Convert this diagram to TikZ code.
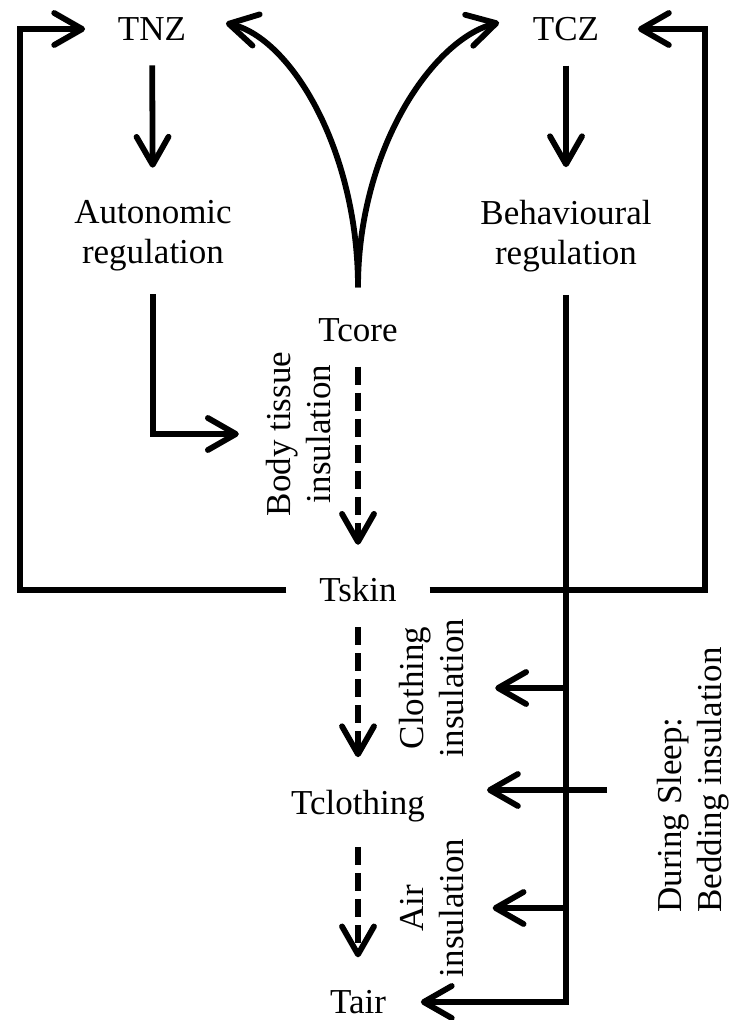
\documentclass[tikz,border=0pt]{standalone}
\usepackage{fontspec}
\setmainfont{Liberation Serif}
\usetikzlibrary{arrows.meta}
\begin{document}
\begin{tikzpicture}[x=0.5pt,y=-0.5pt,line width=2.9pt,line join=miter,line cap=butt,
	>={Straight Barb[length=14pt,width=16pt,round]},
	font=\fontsize{17.5pt}{20pt}\selectfont,inner sep=0pt,
	flow/.style={->,shorten <=11pt,shorten >=15pt},
	dflow/.style={flow,dash pattern=on 9pt off 4pt},
	side/.style={rotate=90,align=center}]
	\useasboundingbox (0,0) rectangle (728,1020);
	%Zones and regulation
	\node (tnz) at (152,29) {TNZ};
	\node (tcz) at (566,29) {TCZ};
	\node[align=center] (aut) at (153,236) {Autonomic\\regulation};
	\node[align=center] (beh) at (566,236) {Behavioural\\regulation};
	%Temperatures
	\foreach \n/\t/\y in {tcore/Tcore/330,tskin/Tskin/590,tclo/Tclothing/806,tair/Tair/1002}{
		\node (\n) at (358,\y) {\t};}
	%Insulation labels
	\node[side] (bodyins) at (299,434) {Body tissue\\insulation};
	\node[side] (clothins) at (432,688) {Clothing\\insulation};
	\node[side] (airins) at (432,908) {Air\\insulation};
	\node[side,align=left] (bedins) at (693,780) {During Sleep:\\Bedding insulation};
	\path (20,29) coordinate (lt) (705,29) coordinate (rt) (487,790) coordinate (bedtip);
	%Arrows
	\draw[flow] (tnz) -- (aut);
	\draw[flow] (tcz) -- (beh);
	\foreach \a/\b in {tcore/tskin,tskin/tclo,tclo/tair}{
		\draw[dflow] (\a) -- (\b);}
	\draw[->,shorten <=14pt,shorten >=19pt] (tcore.north) .. controls (358,150) and (291,38) .. (tnz.north east);
	\draw[->,shorten <=14pt,shorten >=16pt] (tcore.north) .. controls (358,150) and (432,40) .. (tcz.north west);
	\draw[->,shorten <=15pt,shorten >=15pt] (tskin.west) -| (lt) -- (tnz.west);
	\draw[->,shorten <=15pt,shorten >=18pt] (tskin.east) -| (rt) -- (tcz.east);
	\draw[->,shorten <=10pt,shorten >=12.5pt] (aut) |- (bodyins);
	\draw[->,shorten <=10pt,shorten >=16pt] (beh) |- (tair);
	\draw[->,shorten >=14pt] (beh |- clothins) -- (clothins);
	\draw[->,shorten >=13pt] (beh |- airins) -- (airins);
	\draw[->,shorten <=23.5pt] (bedins.north |- bedtip) -- (bedtip);
\end{tikzpicture}
\end{document}
